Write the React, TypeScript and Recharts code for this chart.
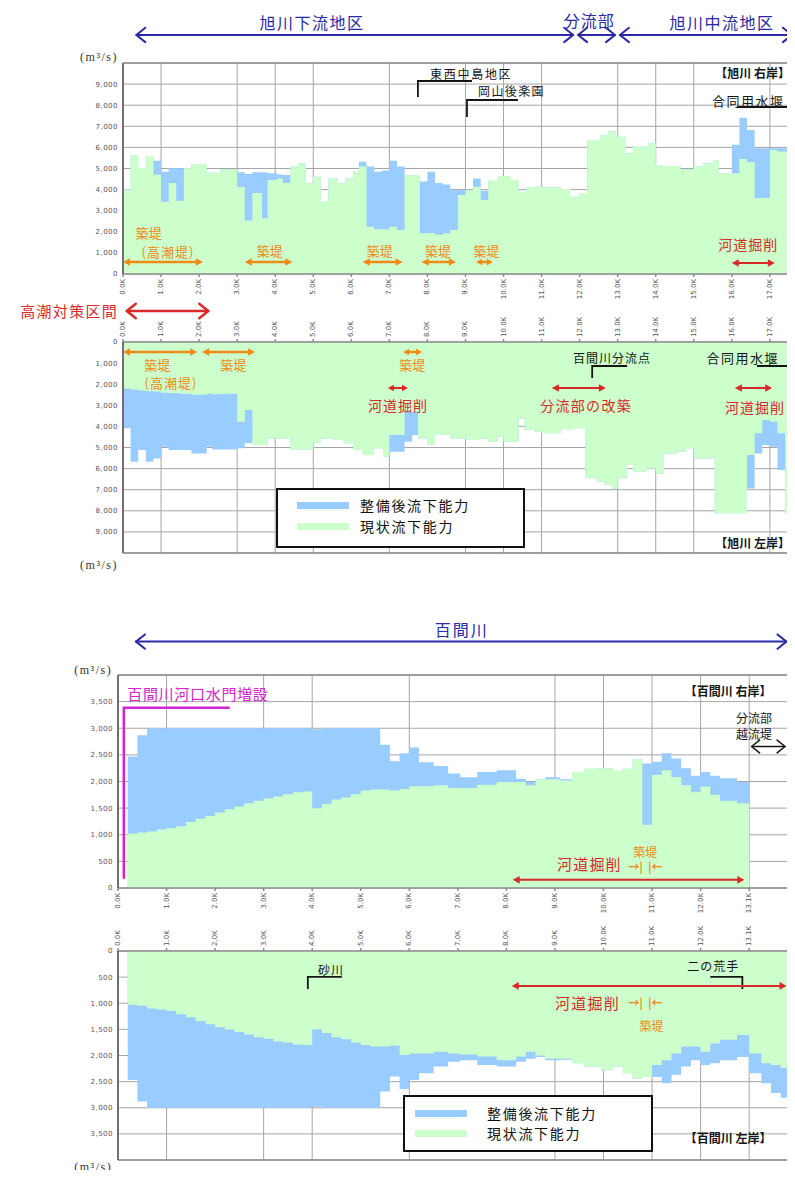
import { ComposedChart, Area, XAxis, YAxis, CartesianGrid, ReferenceLine, Legend } from 'recharts'

const FONT = '"Noto Sans CJK JP", "Noto Sans", sans-serif'
const SERIF = '"Liberation Serif", "DejaVu Serif", serif'
const BLUE = '#99ccff'
const GREEN = '#ccffcc'
const ORANGE = '#ef8a17'
const RED = '#d82a2a'
const NAVY = '#2a2aa6'
const MAGENTA = '#d424cf'
const INK = '#151515'

const legendOrder = ['整備後流下能力', '現状流下能力']

// ---- 旭川 (km, 流下能力 m3/s) ----
const asaTickKm = [0, 1, 2, 3, 4, 5, 6, 7, 8, 9, 10, 11, 12, 13, 14, 15, 16, 17]
const asaTickLabels = ['0.0K', '1.0K', '2.0K', '3.0K', '4.0K', '5.0K', '6.0K', '7.0K', '8.0K', '9.0K',
  '10.0K', '11.0K', '12.0K', '13.0K', '14.0K', '15.0K', '16.0K', '17.0K']
const asaGridKm = [1, 3, 4, 5, 7, 9, 10, 11, 13, 14, 15, 17]
const asaYTicks = [0, 1000, 2000, 3000, 4000, 5000, 6000, 7000, 8000, 9000]

// 右岸
const asaRightKm = [
  0, 0.2, 0.4, 0.6, 0.8, 1.0, 1.2, 1.4, 1.6, 1.8,
  2.2, 2.55, 3.0, 3.2, 3.4, 3.65, 3.8, 4.05, 4.2, 4.4,
  4.6, 4.8, 5.0, 5.2, 5.4, 5.65, 5.85, 6.05, 6.2, 6.4,
  6.6, 6.8, 7.0, 7.2, 7.4, 7.8, 8.0, 8.2, 8.4, 8.6,
  8.8, 9.0, 9.2, 9.4, 9.6, 9.85, 10.2, 10.4, 10.6, 10.8,
  11.05, 11.5, 11.75, 12.0, 12.2, 12.55, 12.75, 12.95, 13.2, 13.4,
  13.8, 14.0, 14.2, 14.65, 15.0, 15.25, 15.5, 15.65, 16.0, 16.2,
  16.4, 16.6, 17.0, 17.2, 17.45, 17.66,
]
const asaRightNow = [
  4000, 5640, 5020, 5590, 4700, 3430, 4310, 3475, 5010, 5210,
  4800, 4960, 4110, 2530, 3840, 2640, 4460, 4530, 4310, 5090,
  5250, 4300, 4610, 3430, 4530, 4300, 4530, 4850, 5100, 2240,
  2120, 2120, 2240, 2090, 4690, 1930, 1930, 1860, 1930, 2090,
  3740, 3980, 4140, 3510, 4420, 4640, 4450, 3900, 4110, 4160,
  4110, 4030, 3660, 3840, 6350, 6590, 6750, 6500, 5720, 6030,
  6200, 5170, 5120, 4960, 5090, 5250, 5400, 4770, 4770, 5450,
  5300, 3600, 5880, 5800, 3700, 3700,
]
const asaRightPlan = [
  null, null, null, null, 5370, 4850, 5010, 5010, null, null,
  null, null, 4820, 4740, 4820, 4820, 4770, 4720, 4690, null,
  null, null, null, null, null, null, null, null, 5320, 5090,
  4850, 4900, 5370, 5090, null, 4380, 4850, 4310, 4240, 3980,
  3980, null, 4530, 3950, null, null, null, null, null, null,
  null, null, null, null, null, null, null, null, null, null,
  null, null, null, null, null, null, null, null, 6120, 7400,
  6830, 5960, 5960, 5960, 5960, 5960,
]

// 左岸
const asaLeftKm = [
  0, 0.2, 0.4, 0.6, 0.8, 1.0, 1.2, 1.5, 1.8, 2.2,
  2.35, 2.7, 3.0, 3.2, 3.4, 3.8, 4.4, 5.0, 5.2, 5.5,
  5.8, 6.05, 6.3, 6.6, 6.85, 7.0, 7.4, 7.6, 7.75, 8.0,
  8.2, 8.6, 9.05, 9.4, 9.6, 9.85, 10.0, 10.4, 10.55, 10.8,
  11.05, 11.5, 11.85, 12.15, 12.45, 12.65, 12.85, 13.0, 13.25, 13.4,
  13.75, 14.0, 14.2, 14.55, 14.8, 15.0, 15.55, 16.4, 16.6, 16.8,
  17.0, 17.2, 17.4, 17.66,
]
const asaLeftNow = [
  2200, 2250, 2300, 2330, 2350, 2400, 2430, 2450, 2500, 2450,
  2480, 2450, 3780, 3220, 4880, 4570, 5100, 4800, 4570, 4650,
  4800, 5120, 5360, 5040, 5440, 4410, 3300, 3300, 4570, 4880,
  4410, 4570, 4650, 4570, 4730, 4490, 4730, 3620, 4170, 4250,
  4330, 4140, 4090, 6460, 6620, 6780, 6940, 6460, 5830, 6150,
  5990, 6230, 5280, 5200, 5040, 5520, 8120, 5360, 4330, 3700,
  3780, 4330, 8120, 8120,
]
const asaLeftPlan = [
  4090, 5670, 5120, 5670, 5520, 4960, 5120, 5120, 5280, 4960,
  5090, 5090, 5040, 4800, null, null, null, null, null, null,
  null, null, null, null, null, 5200, 4730, 4410, null, null,
  null, null, null, null, null, null, null, null, null, null,
  null, null, null, null, null, null, null, null, null, null,
  null, null, null, null, null, null, null, 6940, 5280, 4880,
  4960, 6070, null, null,
]

// ---- 百間川 ----
const hyTickKm = [0, 1, 2, 3, 4, 5, 6, 7, 8, 9, 10, 11, 12, 13]
const hyTickLabels = ['0.0K', '1.0K', '2.0K', '3.0K', '4.0K', '5.0K', '6.0K', '7.0K', '8.0K', '9.0K',
  '10.0K', '11.0K', '12.0K', '13.1K']
const hyGridKm = [1, 3, 4, 6, 9, 10, 11, 12, 13]
const hyYTicks = [0, 500, 1000, 1500, 2000, 2500, 3000, 3500]

// 右岸
const hyRightKm = [
  0.2, 0.4, 0.6, 0.8, 1.0, 1.2, 1.4, 1.6, 1.8, 2.0,
  2.2, 2.4, 2.6, 2.8, 3.0, 3.2, 3.4, 3.6, 3.8, 4.0,
  4.2, 4.4, 4.6, 4.8, 5.0, 5.2, 5.4, 5.6, 5.8, 6.0,
  6.2, 6.5, 6.8, 7.05, 7.4, 7.8, 8.2, 8.4, 8.6, 8.8,
  9.1, 9.35, 9.6, 9.9, 10.2, 10.4, 10.6, 10.8, 11.0, 11.2,
  11.4, 11.6, 11.8, 12.0, 12.2, 12.4, 12.75, 13.0,
]
const hyRightNow = [
  1020, 1040, 1060, 1100, 1120, 1160, 1240, 1300, 1350, 1420,
  1480, 1530, 1590, 1640, 1680, 1720, 1760, 1800, 1810, 1500,
  1580, 1660, 1700, 1760, 1830, 1850, 1850, 1830, 1860, 1910,
  1910, 1930, 1880, 1880, 1940, 1990, 1990, 1930, 2040, 2040,
  2020, 2180, 2240, 2250, 2200, 2240, 2420, 1190, 2120, 2210,
  2080, 1930, 1800, 1900, 1750, 1640, 1590, 1590,
]
const hyRightPlan = [
  2470, 2870, 3000, 3000, 3000, 3000, 3000, 3000, 3000, 3000,
  3000, 3000, 3000, 3000, 3000, 3000, 3000, 3000, 3000, 2980,
  3000, 3000, 3000, 3000, 3000, 3000, 2690, 2380, 2530, 2640,
  2360, 2290, 2150, 2080, 2180, 2210, 2050, 1990, null, 2080,
  2040, null, null, null, null, null, null, 2340, 2370, 2530,
  2430, 2250, 2110, 2180, 2110, 2060, 1990, 1990,
]

// 左岸
const hyLeftKm = [
  0.2, 0.4, 0.6, 0.8, 1.0, 1.2, 1.4, 1.6, 1.8, 2.0,
  2.2, 2.4, 2.6, 2.8, 3.0, 3.2, 3.4, 3.6, 3.8, 4.0,
  4.2, 4.4, 4.6, 4.8, 5.0, 5.2, 5.4, 5.6, 5.8, 6.0,
  6.2, 6.5, 6.8, 7.05, 7.4, 7.8, 8.2, 8.4, 8.6, 8.8,
  9.1, 9.35, 9.6, 9.95, 10.2, 10.4, 10.6, 10.8, 11.0, 11.2,
  11.4, 11.6, 11.8, 12.0, 12.2, 12.4, 12.75, 13.0, 13.25, 13.45,
  13.65, 13.8,
]
const hyLeftNow = [
  1030, 1050, 1100, 1120, 1150, 1210, 1270, 1340, 1400, 1460,
  1500, 1550, 1600, 1650, 1680, 1730, 1750, 1790, 1800, 1500,
  1570, 1650, 1690, 1750, 1800, 1830, 1830, 1810, 1990, 1960,
  1960, 1930, 1960, 1980, 2020, 2090, 2020, 1930, 2000, 2060,
  2060, 2150, 2210, 2280, 2210, 2340, 2440, 2410, 2180, 2090,
  1960, 1830, 1830, 1930, 1770, 1700, 1610, 1960, 2150, 2180,
  2240, 2240,
]
const hyLeftPlan = [
  2470, 2880, 3000, 3000, 3000, 3000, 3000, 3000, 3000, 3000,
  3000, 3000, 3000, 3000, 3000, 3000, 3000, 3000, 3000, 2980,
  3000, 3000, 3000, 3000, 3000, 3000, 2690, 2400, 2640, 2470,
  2340, 2210, 2120, 2090, 2180, 2210, 2120, 2060, 2030, 2090,
  2080, null, null, null, null, null, null, null, 2410, 2530,
  2370, 2210, 2090, 2180, 2150, 2090, 2030, 2340, 2530, 2720,
  2810, 2810,
]

// ---- annotations (km, m3/s) ----
type Note =
  | { kind: 'text'; x: number; y: number; text: string; color: string; size: number; anchor?: string; bold?: boolean; spacing?: number; serif?: boolean }
  | { kind: 'arrow'; x1: number; x2: number; y: number; color: string; width: number; head: number; open?: boolean }
  | { kind: 'bracket'; x1: number; x2: number; y1: number; y2: number; side: 'left' | 'right'; color: string; width: number }

const txt = (x: number, y: number, text: string, color: string, size: number, opts: any = {}): Note =>
  ({ kind: 'text', x, y, text, color, size, ...opts })
const arw = (x1: number, x2: number, y: number, color: string, width: number, head: number, open = false): Note =>
  ({ kind: 'arrow', x1, x2, y, color, width, head, open })
const brk = (x1: number, x2: number, y1: number, y2: number, side: 'left' | 'right', color = INK, width = 1.8): Note =>
  ({ kind: 'bracket', x1, x2, y1, y2, side, color, width })

const UNIT = '(m³/s)'

const asaRightNotes: Note[] = [
  txt(4.97, 11940, '旭川下流地区', NAVY, 16, { spacing: 1.5 }),
  arw(0.35, 11.83, 11330, NAVY, 2, 9, true),
  txt(12.25, 12040, '分流部', NAVY, 16, { spacing: 1 }),
  arw(11.96, 12.93, 11330, NAVY, 2, 9, true),
  txt(15.74, 11940, '旭川中流地区', NAVY, 16, { spacing: 1.5 }),
  arw(13.06, 17.58, 11330, NAVY, 2, 9, true),
  txt(-0.13, 10280, UNIT, '#333', 12, { anchor: 'end', serif: true, spacing: 1.5 }),
  txt(8.07, 9525, '東西中島地区', INK, 12, { anchor: 'start', spacing: 1.7 }),
  brk(7.75, 9.17, 9146, 8388, 'left'),
  txt(9.33, 8720, '岡山後楽園', INK, 12, { anchor: 'start', spacing: 1.4 }),
  brk(9.04, 10.38, 8246, 7440, 'left'),
  txt(17.53, 9573, '【旭川 右岸】', INK, 12, { anchor: 'end', bold: true }),
  txt(16.43, 8246, '合同用水堰', INK, 13, { spacing: 1.5 }),
  brk(16.14, 17.58, 7914, 7014, 'right'),
  txt(0.68, 1990, '築堤', ORANGE, 13),
  txt(1.18, 1043, '(高潮堤)', ORANGE, 13, { spacing: 1 }),
  arw(0, 2.1, 569, ORANGE, 2.5, 7),
  txt(3.86, 1137, '築堤', ORANGE, 13),
  arw(3.2, 4.45, 569, ORANGE, 2.5, 7),
  txt(6.75, 1137, '築堤', ORANGE, 13),
  arw(6.3, 7.35, 569, ORANGE, 2.5, 7),
  txt(8.28, 1137, '築堤', ORANGE, 13),
  arw(7.85, 8.75, 569, ORANGE, 2.5, 7),
  txt(9.55, 1137, '築堤', ORANGE, 13),
  arw(9.28, 9.72, 569, ORANGE, 2.5, 6),
  txt(16.43, 1422, '河道掘削', RED, 14, { spacing: 1 }),
  arw(16.0, 17.13, 521, RED, 2, 7),
]

const asaLeftNotes: Note[] = [
  txt(-0.13, -1517, '高潮対策区間', RED, 15, { anchor: 'end', spacing: 1.3 }),
  arw(0.1, 2.24, -1470, RED, 2.5, 9, true),
  arw(0, 1.95, 474, ORANGE, 2.5, 7),
  arw(2.08, 3.47, 474, ORANGE, 2.5, 7),
  txt(0.9, 1090, '築堤', ORANGE, 13),
  txt(1.26, 1943, '(高潮堤)', ORANGE, 13, { spacing: 1 }),
  txt(2.9, 1090, '築堤', ORANGE, 13),
  arw(7.36, 7.86, 474, ORANGE, 2.5, 6),
  txt(7.6, 1090, '築堤', ORANGE, 13),
  arw(6.96, 7.49, 2180, RED, 2, 6),
  txt(7.23, 2986, '河道掘削', RED, 14, { spacing: 1 }),
  arw(11.27, 12.69, 2180, RED, 2, 7),
  txt(12.17, 2986, '分流部の改築', RED, 14, { spacing: 1.3 }),
  txt(12.85, 758, '百間川分流点', INK, 12, { spacing: 1 }),
  brk(12.33, 13.25, 1137, 1706, 'left'),
  txt(16.29, 758, '合同用水堰', INK, 13, { spacing: 1.5 }),
  brk(16.66, 17.58, 1137, 1943, 'right'),
  arw(16.08, 17.06, 2180, RED, 2, 7),
  txt(16.61, 3080, '河道掘削', RED, 14, { spacing: 1 }),
  txt(17.53, 9525, '【旭川 左岸】', INK, 12, { anchor: 'end', bold: true }),
  txt(-0.13, 10570, UNIT, '#333', 12, { anchor: 'end', serif: true, spacing: 1.5 }),
]

const hyRightNotes: Note[] = [
  txt(7.08, 4856, '百間川', NAVY, 16, { spacing: 2 }),
  arw(0.37, 13.77, 4627, NAVY, 2, 9, true),
  txt(-0.12, 4092, UNIT, '#333', 12, { anchor: 'end', serif: true, spacing: 1.5 }),
  txt(0.19, 3652, '百間川河口水門増設', MAGENTA, 15, { anchor: 'start', spacing: 0.7 }),
  brk(0.12, 2.3, 3384, 172, 'left', MAGENTA, 2.5),
  txt(13.46, 3709, '【百間川 右岸】', INK, 12, { anchor: 'end', bold: true }),
  txt(13.1, 3193, '分流部', INK, 12),
  txt(13.1, 2906, '越流堤', INK, 12),
  arw(13.05, 13.74, 2658, INK, 1.5, 8, true),
  txt(9.71, 459, '河道掘削', RED, 15, { spacing: 1.2 }),
  arw(8.13, 12.9, 153, RED, 2, 7),
  txt(10.86, 688, '築堤', ORANGE, 12),
  txt(10.66, 421, '→|', ORANGE, 11, { bold: true }),
  txt(11.07, 421, '|←', ORANGE, 11, { bold: true }),
]

const hyLeftNotes: Note[] = [
  txt(4.12, 363, '砂川', INK, 12, { anchor: 'start', spacing: 1 }),
  brk(3.91, 4.61, 497, 727, 'left'),
  txt(12.26, 287, '二の荒手', INK, 12, { spacing: 1 }),
  brk(12.2, 12.86, 497, 727, 'right'),
  arw(8.11, 13.77, 669, RED, 2, 7),
  txt(9.67, 994, '河道掘削', RED, 15, { spacing: 1.2 }),
  txt(10.66, 975, '→|', ORANGE, 11, { bold: true }),
  txt(11.07, 975, '|←', ORANGE, 11, { bold: true }),
  txt(10.99, 1434, '築堤', ORANGE, 12),
  txt(13.46, 3575, '【百間川 左岸】', INK, 12, { anchor: 'end', bold: true }),
  txt(-0.12, 4130, UNIT, '#333', 12, { anchor: 'end', serif: true, spacing: 1.5 }),
]

function noteShape(n: Note) {
  return (p: any) => {
    const { x1, y1, x2, y2 } = p
    if (n.kind === 'text') {
      return (
        <text x={x1} y={y1} fill={n.color} fontSize={n.size} fontFamily={n.serif ? SERIF : FONT}
          fontWeight={n.bold ? 700 : 400} textAnchor={n.anchor ?? 'middle'} dominantBaseline="central"
          letterSpacing={n.spacing ?? 0}>
          {n.text}
        </text>
      )
    }
    if (n.kind === 'bracket') {
      const pts = n.side === 'left'
        ? `${x1},${y2} ${x1},${y1} ${x2},${y1}`
        : `${x1},${y1} ${x2},${y1} ${x2},${y2}`
      return <polyline points={pts} fill="none" stroke={n.color} strokeWidth={n.width} />
    }
    const y = y1
    const h = n.head
    if (n.open) {
      const s = h * 0.8
      return (
        <g stroke={n.color} strokeWidth={n.width} fill="none" strokeLinecap="round" strokeLinejoin="round">
          <line x1={x1} y1={y} x2={x2} y2={y} />
          <polyline points={`${x1 + h},${y - s} ${x1},${y} ${x1 + h},${y + s}`} />
          <polyline points={`${x2 - h},${y - s} ${x2},${y} ${x2 - h},${y + s}`} />
        </g>
      )
    }
    const s = h * 0.55
    return (
      <g fill={n.color}>
        <line x1={x1 + h * 0.8} y1={y} x2={x2 - h * 0.8} y2={y} stroke={n.color} strokeWidth={n.width} />
        <polygon points={`${x1},${y} ${x1 + h},${y - s} ${x1 + h},${y + s}`} />
        <polygon points={`${x2},${y} ${x2 - h},${y - s} ${x2 - h},${y + s}`} />
      </g>
    )
  }
}

function noteSegment(n: Note) {
  if (n.kind === 'text') return [{ x: n.x, y: n.y }, { x: n.x, y: n.y }]
  if (n.kind === 'arrow') return [{ x: n.x1, y: n.y }, { x: n.x2, y: n.y }]
  return [{ x: n.x1, y: n.y1 }, { x: n.x2, y: n.y2 }]
}

const kmTick = (ticks: number[], labels: string[], top: boolean) => (p: any) => {
  const label = labels[ticks.indexOf(p.payload.value)] ?? ''
  return (
    <text x={p.x} y={p.y} transform={`rotate(-90 ${p.x} ${p.y})`} textAnchor={top ? 'start' : 'end'}
      dominantBaseline="central" fontSize={7} fill="#555" fontFamily="DejaVu Sans">
      {label}
    </text>
  )
}

interface LegendCfg { left: number; top: number; w: number; h: number; rows: number[]; swatch: number; text: number }

const legendContent = (cfg: LegendCfg) => (props: any) => {
  const items = [...(props.payload ?? [])].sort(
    (a: any, b: any) => legendOrder.indexOf(a.value) - legendOrder.indexOf(b.value))
  return (
    <div style={{ position: 'relative', width: cfg.w, height: cfg.h, boxSizing: 'border-box',
      border: '2px solid #111', background: '#fff', fontFamily: FONT }}>
      {items.map((it: any, i: number) => (
        <div key={it.value}>
          <span style={{ position: 'absolute', left: cfg.swatch - 2, top: cfg.rows[i] - 2 - 3.5, width: 52, height: 7,
            background: it.payload?.fill ?? it.color }} />
          <span style={{ position: 'absolute', left: cfg.text - 2, top: cfg.rows[i] - 2 - 10, lineHeight: '20px',
            fontSize: 14, letterSpacing: 1.7, whiteSpace: 'nowrap', color: '#111' }}>{it.value}</span>
        </div>
      ))}
    </div>
  )
}

interface PanelProps {
  top: number
  height: number
  margin: { top: number; right: number; bottom: number; left: number }
  km: number[]
  now: number[]
  plan: (number | null)[]
  xMax: number
  xTicks: number[]
  xLabels: string[]
  gridKm: number[]
  yMax: number
  yTicks: number[]
  leftBank: boolean
  frameRight: boolean
  notes: Note[]
  legend?: LegendCfg
}

function Panel(props: PanelProps) {
  const { km, now, plan, xMax, yMax, leftBank } = props
  const data = km.map((k, i) => ({ km: k, now: now[i], plan: plan[i] ?? now[i] }))
  return (
    <div style={{ position: 'absolute', left: 0, top: props.top }}>
      <ComposedChart width={795} height={props.height} data={data} margin={props.margin}>
        <CartesianGrid stroke="#a6a6a6" strokeWidth={1} verticalValues={props.gridKm} />
        <XAxis dataKey="km" type="number" domain={[0, xMax]} ticks={props.xTicks} interval={0}
          orientation={leftBank ? 'top' : 'bottom'} height={leftBank ? 30 : 26} allowDataOverflow
          tickSize={3} tickMargin={2} stroke="#8c8c8c" strokeWidth={1.5}
          tick={kmTick(props.xTicks, props.xLabels, leftBank)} />
        <YAxis type="number" domain={[0, yMax]} ticks={props.yTicks} interval={0} reversed={leftBank}
          width={40} tickLine={false} tickSize={3} tickMargin={2}
          axisLine={{ stroke: '#707070', strokeWidth: 2 }}
          tick={{ fontSize: 7, fill: '#555', fontFamily: 'DejaVu Sans', letterSpacing: 0.5 }}
          tickFormatter={(v: number) => v.toLocaleString('en-US')} />
        <Area dataKey="plan" name="整備後流下能力" type="stepAfter" fill={BLUE} fillOpacity={1} stroke="none"
          isAnimationActive={false} />
        <Area dataKey="now" name="現状流下能力" type="stepAfter" fill={GREEN} fillOpacity={1} stroke="none"
          isAnimationActive={false} />
        <ReferenceLine y={yMax} stroke="#8c8c8c" strokeWidth={1.5} />
        {props.frameRight && <ReferenceLine x={xMax} stroke="#8c8c8c" strokeWidth={1.5} />}
        {props.notes.map((n, i) => (
          <ReferenceLine key={i} segment={noteSegment(n)} ifOverflow="visible" shape={noteShape(n)} />
        ))}
        {props.legend && (
          <Legend layout="horizontal" verticalAlign="middle" align="center"
            wrapperStyle={{ left: props.legend.left, top: props.legend.top, width: props.legend.w, height: props.legend.h }}
            content={legendContent(props.legend)} />
        )}
      </ComposedChart>
    </div>
  )
}

export default function App() {
  return (
    <div style={{ position: 'relative', width: 795, height: 1178, margin: -8, background: '#fff', overflow: 'hidden' }}>
      <Panel top={0} height={300} margin={{ top: 63, right: 0, bottom: 0, left: 83 }}
        km={asaRightKm} now={asaRightNow} plan={asaRightPlan} xMax={17.66}
        xTicks={asaTickKm} xLabels={asaTickLabels} gridKm={asaGridKm}
        yMax={10000} yTicks={asaYTicks} leftBank={false} frameRight={false} notes={asaRightNotes} />
      <Panel top={300} height={272} margin={{ top: 12, right: 0, bottom: 19, left: 83 }}
        km={asaLeftKm} now={asaLeftNow} plan={asaLeftPlan} xMax={17.66}
        xTicks={asaTickKm} xLabels={asaTickLabels} gridKm={asaGridKm}
        yMax={10000} yTicks={asaYTicks} leftBank frameRight={false} notes={asaLeftNotes}
        legend={{ left: 276, top: 188, w: 249, h: 60, rows: [17, 38], swatch: 21, text: 84 }} />
      <Panel top={600} height={320} margin={{ top: 75, right: 7, bottom: 6, left: 78 }}
        km={hyRightKm} now={hyRightNow} plan={hyRightPlan} xMax={13.8}
        xTicks={hyTickKm} xLabels={hyTickLabels} gridKm={hyGridKm}
        yMax={4000} yTicks={hyYTicks} leftBank={false} frameRight notes={hyRightNotes} />
      <Panel top={920} height={258} margin={{ top: 1, right: 7, bottom: 18, left: 78 }}
        km={hyLeftKm} now={hyLeftNow} plan={hyLeftPlan} xMax={13.8}
        xTicks={hyTickKm} xLabels={hyTickLabels} gridKm={hyGridKm}
        yMax={4000} yTicks={hyYTicks} leftBank frameRight notes={hyLeftNotes}
        legend={{ left: 403, top: 175, w: 250, h: 57, rows: [18, 38], swatch: 12, text: 84 }} />
    </div>
  )
}
